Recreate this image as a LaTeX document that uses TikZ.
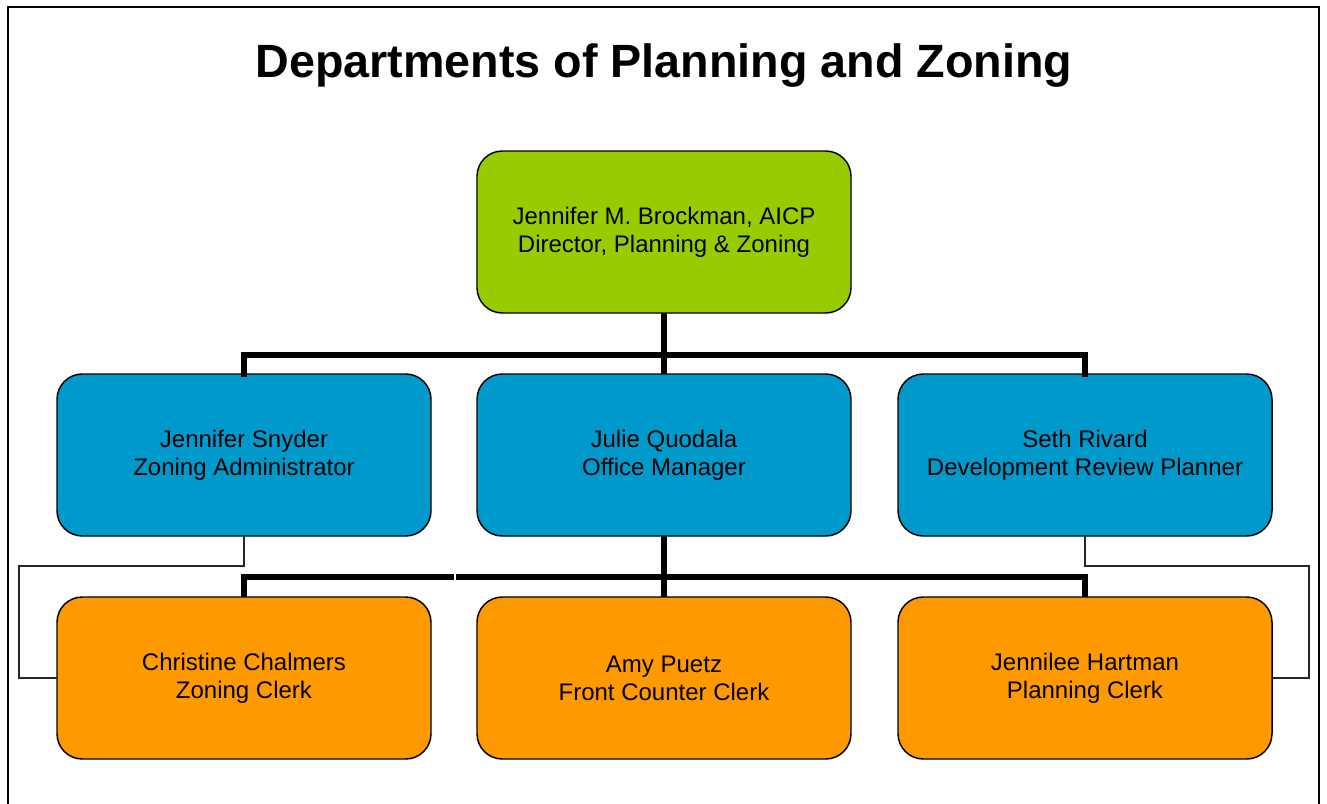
\documentclass[tikz,border=0pt]{standalone}
\usepackage{fontspec}
\setmainfont{Liberation Sans}
\definecolor{boxgreen}{HTML}{99CC00}
\definecolor{boxblue}{HTML}{0099CC}
\definecolor{boxorange}{HTML}{FF9900}
\begin{document}
\begin{tikzpicture}[x=0.75pt,y=-0.75pt,
  person/.style={draw=black, line width=1.1pt, rounded corners=19pt,
    minimum width=280.5pt, minimum height=121.5pt, inner sep=0pt, outer sep=0pt,
    align=center, font=\fontsize{18}{21}\selectfont},
  thick link/.style={line width=3.8pt, draw=black},
  thin link/.style={line width=1pt, draw=black!85}]
\useasboundingbox (0,0) rectangle (1327,803);
\begin{scope}
\clip (0,0) rectangle (1327,803);
\draw[line width=1.3pt] (8,7) rectangle (1319,820);
\end{scope}
\node[font=\fontsize{35}{40}\selectfont\bfseries, anchor=base, inner sep=0pt] (title) at (664,77) {Departments of Planning and Zoning};
\coordinate (j1) at (664,355);
\coordinate (j2) at (664,577);
\node[person, fill=boxgreen] (dir) at (664,232) {Jennifer M. Brockman, AICP\\Director, Planning \& Zoning};
\node[person, fill=boxblue] (zadm) at (244,455) {Jennifer Snyder\\Zoning Administrator};
\node[person, fill=boxblue] (om) at (664,455) {Julie Quodala\\Office Manager};
\node[person, fill=boxblue] (drp) at (1085,455) {Seth Rivard\\Development Review Planner};
\node[person, fill=boxorange] (zc) at (244,678) {Christine Chalmers\\Zoning Clerk};
\node[person, fill=boxorange] (fcc) at (664,678) {Amy Puetz\\Front Counter Clerk};
\node[person, fill=boxorange] (pc) at (1085,678) {Jennilee Hartman\\Planning Clerk};
% thick links
\draw[thick link] (dir.south) -- (j1);
\draw[thick link] (j1) -- (om.north);
\draw[thick link, line cap=rect] (zadm.north) |- (j1) -| (drp.north);
\draw[thick link] (om.south) -- (j2);
\draw[thick link] (j2) -- (fcc.north);
\draw[thick link] (zc.north) |- (j2) -| (pc.north);
\draw[white, line width=1.2pt] (455,572) -- (455,582);
% thin links
\coordinate (l1) at (19,566);
\coordinate (r1) at (1309,566);
\draw[thin link] (zadm.south) |- (l1) |- (zc.west);
\draw[thin link] (drp.south) |- (r1) |- (pc.east);
\end{tikzpicture}
\end{document}
